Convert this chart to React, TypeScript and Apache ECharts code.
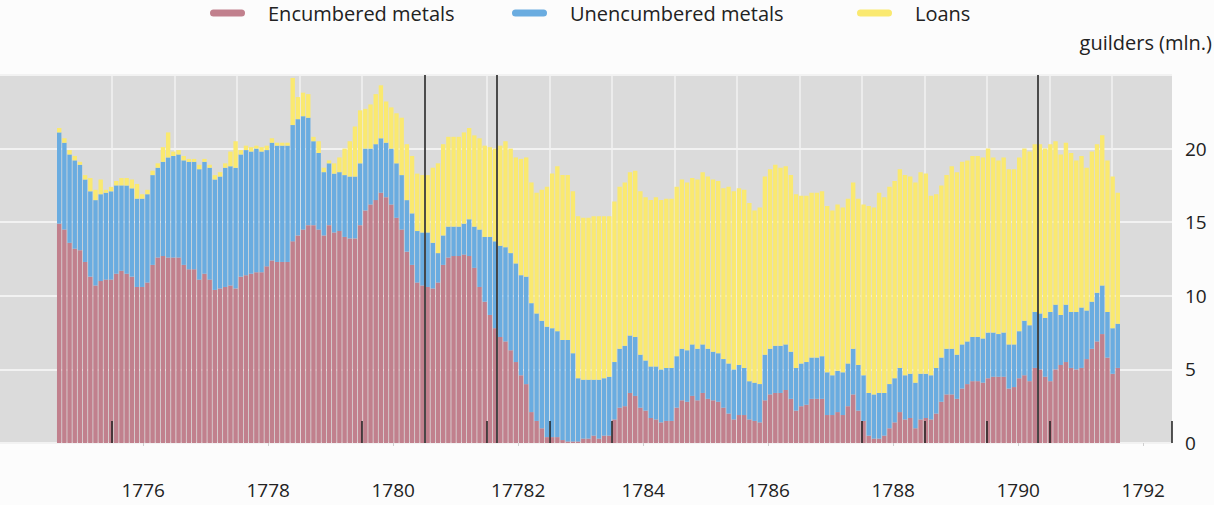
import React, { useEffect, useRef } from "react";
import * as echarts from "echarts";

// ---- data (monthly, first bar = August 1774) ----
const START_YEAR = 1774;
const START_MONTH = 7; // 0-based month index: August

const encumbered = [
  14.9, 14.5, 13.6, 13.2, 13.1, 12.3, 11.3, 10.7, 11.0, 11.1,
  11.1, 11.5, 11.7, 11.5, 11.3, 10.6, 10.6, 10.9, 12.1, 12.6,
  12.7, 12.6, 12.6, 12.6, 12.1, 11.8, 11.8, 11.1, 11.5, 11.1,
  10.4, 10.5, 10.6, 10.7, 10.5, 11.3, 11.4, 11.5, 11.6, 11.6,
  12.0, 12.4, 12.3, 12.3, 12.3, 13.7, 14.1, 14.5, 14.8, 14.8,
  14.5, 14.1, 14.8, 14.3, 14.4, 14.0, 13.9, 13.9, 14.8, 15.8,
  16.2, 16.5, 17.0, 16.7, 16.2, 15.3, 14.5, 13.0, 12.1, 10.9,
  10.7, 10.6, 10.5, 10.9, 12.1, 12.6, 12.7, 12.7, 12.8, 12.7,
  11.9, 10.6, 9.6, 8.7, 7.8, 7.2, 6.9, 6.3, 5.5, 4.6,
  4.0, 2.1, 1.5, 1.0, 0.4, 0.4, 0.4, 0.2, 0.1, 0.1,
  0.1, 0.3, 0.3, 0.5, 0.3, 0.5, 0.5, 1.6, 2.4, 2.5,
  3.4, 3.2, 2.4, 2.2, 1.7, 1.6, 1.4, 1.5, 1.5, 2.4,
  2.9, 2.8, 3.2, 2.9, 3.4, 3.0, 2.9, 2.8, 2.4, 2.0,
  1.6, 1.9, 1.9, 1.6, 1.5, 1.4, 2.9, 3.3, 3.4, 3.4,
  3.6, 3.0, 2.2, 2.5, 2.6, 3.0, 3.0, 3.0, 1.9, 1.9,
  2.1, 1.9, 2.5, 3.3, 2.2, 1.5, 0.5, 0.3, 0.3, 0.5,
  1.0, 1.4, 2.1, 1.6, 1.7, 1.0, 1.6, 1.7, 1.6, 2.0,
  2.8, 3.3, 3.3, 3.0, 3.7, 4.0, 4.2, 4.2, 4.1, 4.4,
  4.5, 4.5, 4.5, 3.7, 3.8, 4.4, 4.6, 4.2, 5.1, 5.0,
  4.5, 4.2, 5.0, 5.3, 5.5, 5.1, 5.0, 5.1, 5.7, 6.4,
  6.9, 7.4, 5.8, 4.7, 5.1,
];

const unencumbered = [
  6.2, 5.9, 6.0, 6.0, 5.8, 5.6, 5.8, 5.8, 5.9, 5.9,
  6.0, 6.0, 5.8, 6.0, 6.0, 6.0, 6.0, 6.0, 6.1, 6.1,
  6.4, 6.8, 6.9, 7.0, 7.1, 7.3, 7.3, 7.5, 7.6, 7.6,
  7.5, 7.6, 8.1, 8.1, 8.2, 8.3, 8.5, 8.3, 8.4, 8.2,
  7.9, 8.0, 7.9, 7.9, 7.9, 7.9, 7.9, 7.7, 7.3, 5.7,
  5.2, 4.3, 4.2, 4.0, 4.0, 4.2, 4.2, 4.2, 4.2, 4.2,
  3.8, 3.8, 3.7, 3.7, 3.8, 3.7, 3.7, 3.5, 3.5, 3.5,
  3.6, 3.7, 3.1, 2.0, 2.0, 2.1, 2.0, 2.0, 2.1, 2.5,
  2.8, 3.9, 4.4, 5.3, 5.9, 6.2, 6.4, 6.6, 6.7, 6.8,
  7.3, 7.4, 7.3, 7.3, 7.5, 7.4, 7.2, 6.8, 6.9, 6.0,
  4.3, 4.0, 4.0, 3.8, 4.0, 3.9, 4.0, 3.9, 4.0, 4.1,
  3.9, 4.0, 3.6, 3.4, 3.5, 3.6, 3.6, 3.6, 3.6, 3.5,
  3.5, 3.5, 3.5, 3.5, 3.3, 3.4, 3.3, 3.3, 3.3, 3.4,
  3.4, 3.4, 3.2, 2.6, 2.6, 2.6, 3.1, 3.1, 3.2, 3.2,
  3.1, 3.2, 2.9, 2.9, 2.9, 2.8, 2.8, 2.9, 2.9, 2.7,
  2.8, 2.9, 2.9, 3.1, 3.1, 3.1, 2.9, 3.0, 3.1, 2.9,
  3.0, 3.0, 3.0, 3.0, 3.0, 3.1, 3.1, 3.0, 3.0, 3.1,
  3.0, 3.1, 3.1, 3.0, 3.0, 2.9, 3.0, 3.0, 3.0, 3.1,
  3.0, 2.9, 3.0, 3.0, 2.9, 3.2, 3.7, 3.8, 3.8, 3.8,
  4.0, 4.7, 4.4, 3.4, 3.9, 3.8, 3.9, 4.1, 3.3, 3.2,
  3.3, 3.3, 3.1, 3.1, 3.0,
];

const loans = [
  0.3, 0.3, 0.3, 0.3, 0.2, 0.3, 0.9, 0.7, 1.0, 0.2,
  0.3, 0.3, 0.5, 0.5, 0.6, 1.0, 0.3, 0.3, 0.3, 0.3,
  1.0, 1.7, 0.3, 0.3, 0.3, 0.2, 0.2, 0.3, 0.2, 0.2,
  0.3, 0.3, 0.3, 1.0, 1.8, 0.3, 0.3, 0.3, 0.2, 0.3,
  0.3, 0.3, 0.2, 0.2, 0.2, 3.2, 1.5, 1.6, 1.6, 0.3,
  0.8, 0.3, 0.2, 0.7, 1.0, 1.8, 2.4, 3.4, 3.6, 2.7,
  3.0, 3.4, 3.6, 2.8, 2.8, 3.4, 3.9, 3.8, 3.9, 3.9,
  3.9, 3.9, 5.1, 6.1, 6.2, 6.1, 6.1, 6.1, 6.2, 6.2,
  6.2, 6.2, 6.2, 6.1, 6.3, 6.8, 7.2, 7.1, 7.2, 7.9,
  8.1, 8.2, 8.2, 8.9, 9.5, 10.5, 11.2, 11.2, 11.2, 11.0,
  11.0, 11.0, 11.0, 11.1, 11.1, 11.0, 10.9, 10.9, 11.0, 11.1,
  11.1, 11.3, 11.1, 11.1, 11.3, 11.5, 11.5, 11.5, 11.5, 11.5,
  11.5, 11.4, 11.3, 11.5, 11.7, 11.7, 11.7, 11.7, 11.6, 12.0,
  12.1, 12.0, 12.1, 12.1, 11.7, 12.0, 12.1, 12.2, 12.3, 12.1,
  12.1, 12.0, 11.8, 11.4, 11.3, 11.2, 11.2, 11.2, 11.3, 11.2,
  11.3, 11.2, 11.2, 11.3, 11.3, 11.6, 12.7, 12.7, 13.6, 13.3,
  13.4, 13.4, 13.5, 13.6, 13.4, 13.6, 13.7, 13.6, 12.2, 11.8,
  11.7, 11.8, 12.4, 12.4, 12.4, 12.3, 12.3, 12.3, 12.3, 12.5,
  11.9, 11.8, 11.9, 11.9, 11.9, 11.8, 11.7, 11.8, 11.4, 11.5,
  11.5, 11.4, 11.1, 10.9, 11.0, 10.8, 10.3, 10.3, 9.7, 10.2,
  10.1, 10.2, 10.3, 10.3, 8.9,
];

const seriesNames = ["Encumbered metals", "Unencumbered metals", "Loans"];
const seriesColors = ["#c1808d", "#6aace0", "#fae970"];

// x axis tick labels (as printed in the original, including its typo)
const xTickYears = [1776, 1778, 1780, 1782, 1784, 1786, 1788, 1790, 1792];
const xTickLabels = ["1776", "1778", "1780", "17782", "1784", "1786", "1788", "1790", "1792"];
// vertical grid lines (mid-year)
const gridYears = [
  1775.5, 1776.5, 1777.5, 1778.5, 1779.5, 1780.5, 1781.5, 1782.5, 1783.5,
  1784.5, 1785.5, 1786.5, 1787.5, 1788.5, 1789.5, 1790.5, 1791.5,
];
// event markers
const fullEventLines = [1780.5, 1781.66, 1790.32];
const shortEventTicks = [1775.5, 1779.5, 1781.5, 1782.5, 1783.5, 1787.5, 1788.5, 1789.5, 1790.5, 1792.45];
const SHORT_TICK_HEIGHT = 1.5;

const yTicks = [0, 5, 10, 15, 20];
const X_MIN = 1773.71;
const X_MAX = 1792.46;
const Y_MAX = 25;

const TEXT_FONT = "'Open Sans', Lato, sans-serif";
const NUM_FONT = "'Open Sans', Lato, sans-serif";

// fractional year -> timestamp (linear), used by the bar (time) axis
const MS_PER_YEAR = 365.2425 * 86400000;
const yearToTime = (y: number) => (y - 1970) * MS_PER_YEAR;

export default function App() {
  const ref = useRef<HTMLDivElement>(null);

  useEffect(() => {
    if (!ref.current) return;
    const chart = echarts.init(ref.current, null, { renderer: "svg" });

    const monthTimes = encumbered.map((_, i) =>
      yearToTime(START_YEAR + (START_MONTH + i + 0.5) / 12)
    );
    const seriesValues = [encumbered, unencumbered, loans];

    const legendLefts = [210, 512, 857];
    const iconPath =
      "path://M3.5,0 L31.5,0 A3.5,3.5 0 0 1 31.5,7 L3.5,7 A3.5,3.5 0 0 1 3.5,0 Z";

    const option: any = {
      animation: false,
      backgroundColor: "#fcfcfc",
      textStyle: { fontFamily: TEXT_FONT },
      title: {
        text: "guilders (mln.)",
        right: 2,
        top: 32,
        padding: 0,
        textStyle: { fontSize: 20, fontWeight: "normal", color: "#222", fontFamily: TEXT_FONT },
      },
      legend: seriesNames.map((name, k) => ({
        data: [name],
        left: legendLefts[k],
        top: 2,
        padding: 0,
        itemWidth: 35,
        itemHeight: 7,
        icon: iconPath,
        selectedMode: false,
        textStyle: {
          fontSize: 20,
          lineHeight: 22,
          color: "#222",
          fontFamily: TEXT_FONT,
          padding: [0, 0, 0, 18],
        },
      })),
      grid: {
        left: 0,
        right: 42,
        top: 75,
        bottom: 62,
        show: true,
        backgroundColor: "#dbdbdb",
        borderWidth: 0,
      },
      xAxis: [
        // 0: time axis carrying the stacked bars (hidden)
        {
          type: "time",
          min: yearToTime(X_MIN),
          max: yearToTime(X_MAX),
          show: true,
          axisLine: { show: false },
          axisTick: { show: false },
          axisLabel: { show: false },
          splitLine: { show: false },
        },
        // 1: year axis: labels + vertical grid lines
        {
          type: "value",
          min: X_MIN,
          max: X_MAX,
          position: "bottom",
          axisLine: { show: false },
          axisTick: { show: false, customValues: gridYears },
          splitLine: { show: true, lineStyle: { color: "#f2f2f2", width: 1.5 } },
          axisLabel: {
            customValues: xTickYears,
            formatter: (v: number) => {
              const idx = xTickYears.findIndex((y) => Math.abs(y - v) < 1e-6);
              return idx >= 0 ? xTickLabels[idx] : "";
            },
            margin: 37,
            fontSize: 19,
            color: "#222",
            fontFamily: NUM_FONT,
          },
        },
        // 2: faint ticks at labelled years
        {
          type: "value",
          min: X_MIN,
          max: X_MAX,
          position: "bottom",
          axisLine: { show: false },
          axisTick: {
            show: true,
            customValues: xTickYears,
            length: 3,
            lineStyle: { color: "#cfcfcf", width: 1 },
          },
          axisLabel: { show: false },
          splitLine: { show: false },
        },
      ],
      yAxis: {
        type: "value",
        position: "right",
        min: 0,
        max: Y_MAX,
        interval: 5,
        axisLine: { show: false },
        axisTick: { show: false },
        splitLine: { show: true, lineStyle: { color: "#f2f2f2", width: 2 } },
        axisLabel: {
          margin: 13,
          fontSize: 19,
          color: "#222",
          fontFamily: NUM_FONT,
          formatter: (v: number) => (yTicks.includes(v) ? String(v) : ""),
        },
      },
      series: [
        ...seriesNames.map((name, k) => ({
          type: "bar",
          name,
          stack: "total",
          xAxisIndex: 0,
          yAxisIndex: 0,
          barWidth: 4.4,
          silent: true,
          z: 2,
          itemStyle: { color: seriesColors[k] },
          data: monthTimes.map((t, i) => [t, seriesValues[k][i]]),
        })),
        {
          type: "line",
          name: "events",
          xAxisIndex: 1,
          yAxisIndex: 0,
          data: [],
          silent: true,
          markLine: {
            silent: true,
            animation: false,
            symbol: ["none", "none"],
            label: { show: false },
            z: 10,
            data: [
              ...fullEventLines.map((y) => ({
                xAxis: y,
                lineStyle: { color: "#3a3a3a", width: 1.8, type: "solid" },
              })),
              ...shortEventTicks.map((y) => [
                {
                  coord: [y, 0],
                  lineStyle: { color: "#1e1e1e", width: 1.5, type: "solid" },
                },
                { coord: [y, SHORT_TICK_HEIGHT] },
              ]),
            ],
          },
        },
      ],
    };

    chart.setOption(option);
    return () => chart.dispose();
  }, []);

  return (
    <div
      ref={ref}
      style={{ position: "absolute", left: 0, top: 0, width: 1214, height: 505 }}
    />
  );
}
